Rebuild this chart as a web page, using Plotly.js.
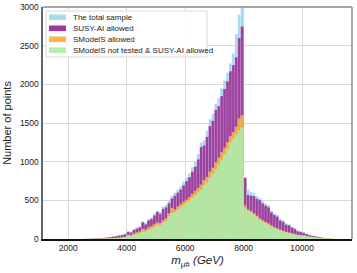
<!DOCTYPE html>
<html>
<head>
<meta charset="utf-8">
<script src="https://cdn.plot.ly/plotly-3.0.1.min.js"></script>
<style>html,body{margin:0;padding:0;background:#fff;}#chart{width:357px;height:273px;}</style>
</head>
<body>
<div id="chart"></div>
<script>
// bin centres (100 GeV bins)
const binCenters = [2550,2650,2750,2850,2950,3050,3150,3250,3350,3450,3550,3650,3750,3850,3950,
4050,4150,4250,4350,4450,4550,4650,4750,4850,4950,5050,5150,5250,5350,5450,5550,5650,5750,5850,5950,
6050,6150,6250,6350,6450,6550,6650,6750,6850,6950,7050,7150,7250,7350,7450,7550,7650,7750,7850,7950,
8050,8150,8250,8350,8450,8550,8650,8750,8850,8950,9050,9150,9250,9350,9450,9550,9650,9750,9850,9950,
10050,10150,10250,10350,10450,10550,10650,10750,10850,10950,11050];

const totalSample = [2,3,4,6,12,10,14,18,22,28,35,42,50,58,70,
100,95,130,150,165,230,210,260,280,330,370,350,420,440,500,560,600,640,680,740,
800,850,930,1000,1100,1250,1280,1400,1550,1620,1750,1820,1950,2050,2150,2270,2400,2650,2900,3150,
800,640,610,600,560,530,490,460,440,370,330,310,260,240,200,190,160,140,110,100,
85,70,55,45,40,30,22,15,10,6,3];

const susyAllowed = [1,2,3,5,10,8,12,15,19,25,31,37,45,52,62,
92,85,118,135,150,215,190,240,258,305,350,325,390,410,465,525,560,600,640,695,
750,800,870,935,1030,1190,1210,1320,1460,1530,1670,1720,1850,1940,2040,2170,2250,2350,2600,2750,
790,570,560,555,520,505,460,430,410,345,310,290,240,222,185,178,150,130,100,92,
80,65,50,40,36,27,20,13,8,5,2];

const smodelsAllowed = [0,1,1,2,3,3,4,5,6,8,10,12,16,20,25,
55,50,70,85,95,130,120,150,165,190,212,205,240,265,330,400,380,420,450,480,
506,540,580,620,660,700,760,800,870,920,990,1050,1120,1180,1250,1330,1380,1450,1560,1600,
430,380,360,330,300,265,240,220,200,175,150,135,120,105,90,82,70,60,50,45,
44,36,30,24,20,15,11,7,5,3,1];

const notTestedSusy = [0,1,1,1,2,2,3,4,5,6,8,10,13,16,20,
39,36,50,62,72,95,92,115,130,155,180,175,205,230,290,336,345,380,410,440,
467,495,530,565,600,636,690,730,790,840,896,960,1020,1090,1160,1245,1290,1350,1400,1440,
400,365,345,315,285,247,225,205,185,160,143,125,112,98,85,78,66,56,48,43,
43,34,28,22,18,13,10,6,4,2,1];

const seriesNames = ['The total sample','SUSY-AI allowed','SModelS allowed','SModelS not tested &amp; SUSY-AI allowed'];
const seriesColors = ['#a9d9ef','#9c3f9e','#f5a53c','#ade69e'];
const legendColors = ['#a8daf0','#9a3a9e','#ffb347','#b0f0a8'];
const seriesData = [totalSample, susyAllowed, smodelsAllowed, notTestedSusy];

const traces = seriesData.map((y, i) => ({
  type: 'bar',
  x: binCenters,
  y: y,
  width: 100,
  name: seriesNames[i],
  showlegend: false,
  marker: {color: seriesColors[i], line: {color: 'rgba(255,255,255,0.35)', width: 0.4}},
  hoverinfo: 'skip'
}));

const font = 'Liberation Sans, Arial, Helvetica, sans-serif';

// plot-area geometry in pixels (for the hand-drawn legend box)
const PL = 43, PR = 352, PT = 7, PB = 239;
const px = v => (v - PL) / (PR - PL);
const py = v => (PB - v) / (PB - PT);

const shapes = [
  {type: 'line', xref: 'paper', yref: 'paper', x0: 0, x1: 1, y0: 1, y1: 1, line: {color: '#8a8a8a', width: 1.5}},
  {type: 'line', xref: 'paper', yref: 'paper', x0: 1, x1: 1, y0: 0, y1: 1, line: {color: '#8a8a8a', width: 1.5}},
  {type: 'rect', xref: 'paper', yref: 'paper', x0: px(46), x1: px(207), y0: py(57), y1: py(11),
   fillcolor: 'rgba(255,255,255,0.92)', line: {color: '#d8d8d8', width: 1}, layer: 'above'}
];
const annotations = [];
const rowY = [17.3, 28.3, 39.3, 50.2];
seriesNames.forEach((n, i) => {
  shapes.push({type: 'rect', xref: 'paper', yref: 'paper', x0: px(49), x1: px(66),
    y0: py(rowY[i] + 2.8), y1: py(rowY[i] - 2.8), fillcolor: legendColors[i], line: {width: 0}, layer: 'above'});
  annotations.push({xref: 'paper', yref: 'paper', x: px(71), y: py(rowY[i]), xanchor: 'left', yanchor: 'middle',
    text: n, showarrow: false, font: {family: font, size: 8, color: '#222'}});
});

const layout = {
  width: 357, height: 273,
  margin: {l: PL, r: 357 - PR, t: PT, b: 273 - PB},
  paper_bgcolor: '#ffffff', plot_bgcolor: '#ffffff',
  barmode: 'overlay', bargap: 0,
  showlegend: false,
  xaxis: {
    range: [1140, 11705],
    tickvals: [2000, 4000, 6000, 8000, 10000],
    ticktext: ['2000','4000','6000','8000','10000'],
    showgrid: true, gridcolor: '#d9d9d9', gridwidth: 1,
    zeroline: false,
    showline: true, linecolor: '#111', linewidth: 2,
    ticks: '', ticklen: 0,
    tickfont: {family: font, size: 8.5, color: '#222'},
    title: {text: '<i>m</i><sub>μ̃<span style="font-size:6px">R</span></sub> <i>(GeV)</i>', font: {family: font, size: 11.5, color: '#222'}, standoff: 4}
  },
  yaxis: {
    range: [0, 3000],
    tickvals: [0, 500, 1000, 1500, 2000, 2500, 3000],
    showgrid: true, gridcolor: '#d9d9d9', gridwidth: 1,
    zeroline: false,
    showline: true, linecolor: '#666', linewidth: 2.5,
    ticks: '', ticklen: 0,
    tickfont: {family: font, size: 8.5, color: '#222'},
    title: {text: 'Number of points', font: {family: font, size: 11, color: '#222'}, standoff: 6}
  },
  shapes: shapes,
  annotations: annotations
};

Plotly.newPlot('chart', traces, layout, {displayModeBar: false, staticPlot: true});
</script>
</body>
</html>
